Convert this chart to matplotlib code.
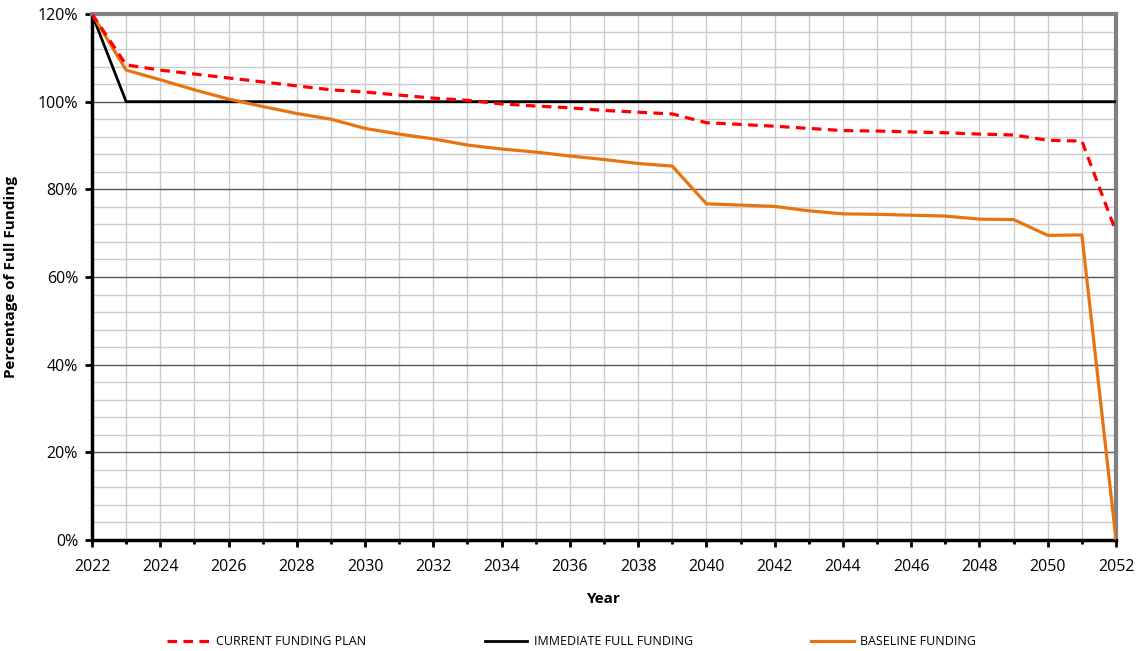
import matplotlib.pyplot as plt
from matplotlib.ticker import MultipleLocator, PercentFormatter

years = list(range(2022, 2053))
current_plan = [120.0, 108.4, 107.2, 106.3, 105.4, 104.5, 103.6, 102.7, 102.2, 101.5,
                100.8, 100.3, 99.5, 99.0, 98.6, 98.0, 97.6, 97.2, 95.2, 94.8,
                94.4, 93.9, 93.4, 93.3, 93.1, 92.9, 92.6, 92.4, 91.2, 91.0, 70.3]
immediate_full = [120.0] + [100.0] * 30
baseline = [120.0, 107.2, 105.0, 102.7, 100.6, 98.9, 97.3, 96.0, 93.9, 92.6,
            91.5, 90.1, 89.2, 88.5, 87.6, 86.8, 85.9, 85.3, 76.7, 76.4,
            76.1, 75.1, 74.4, 74.3, 74.1, 73.9, 73.2, 73.1, 69.5, 69.6, 0.0]

plt.rcParams['font.family'] = ['Open Sans', 'DejaVu Sans']

fig = plt.figure(figsize=(11.43, 6.51), dpi=100)
ax = fig.add_axes([0.0805, 0.1705, 0.8959, 0.808])

ax.plot(years, current_plan, color='#ff0000', lw=2.3, ls=(0, (3, 2)), label='CURRENT FUNDING PLAN', zorder=4)
ax.plot(years, immediate_full, color='black', lw=2.0, label='IMMEDIATE FULL FUNDING', zorder=3)
ax.plot(years, baseline, color='#e8740f', lw=2.3, label='BASELINE FUNDING', zorder=3)

ax.set_xlim(2022, 2052)
ax.set_ylim(0, 120)
ax.xaxis.set_major_locator(MultipleLocator(2))
ax.xaxis.set_minor_locator(MultipleLocator(1))
ax.yaxis.set_major_locator(MultipleLocator(20))
ax.yaxis.set_minor_locator(MultipleLocator(4))
ax.yaxis.set_major_formatter(PercentFormatter(decimals=0))

# grid: light every year / 4%, darker at each 20%
ax.grid(which='minor', axis='both', color='#cccccc', lw=1.0)
ax.grid(which='major', axis='x', color='#cccccc', lw=1.0)
ax.grid(which='major', axis='y', color='#555555', lw=1.0)
ax.set_axisbelow(True)

ax.tick_params(which='major', direction='out', length=5, width=2, labelsize=11.5)
ax.tick_params(axis='x', which='major', pad=9)
ax.tick_params(axis='y', which='major', pad=5)
ax.tick_params(axis='y', which='minor', length=0)
ax.tick_params(axis='x', which='minor', direction='out', length=3, width=2)

for side in ['left', 'bottom']:
    ax.spines[side].set_color('black')
    ax.spines[side].set_linewidth(2.5)
for side in ['top', 'right']:
    ax.spines[side].set_color('#808080')
    ax.spines[side].set_linewidth(3)

ax.set_xlabel('Year', fontsize=11, fontweight='bold', labelpad=12)
ax.set_ylabel('Percentage of Full Funding', fontsize=11, fontweight='bold', labelpad=14)

fig.legend(loc='lower center', bbox_to_anchor=(0.5, -0.013), ncol=3, frameon=False,
           fontsize=9, handlelength=3.4, columnspacing=9.5, handletextpad=0.5)

plt.savefig('out.png', dpi=100)
plt.close()
